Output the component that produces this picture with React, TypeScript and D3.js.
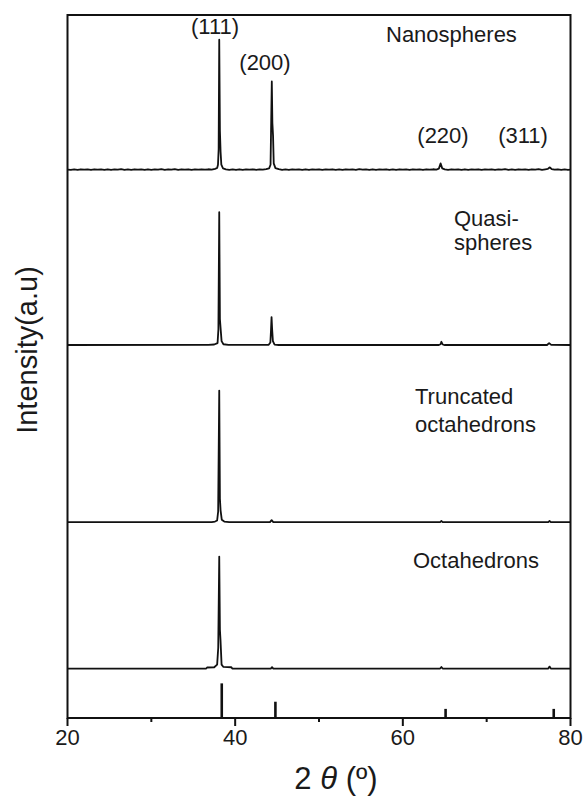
import React from "react";
import * as d3 from "d3";

// ---------- data ----------
const xTicksMajor = [20, 40, 60, 80];
const xTicksMinor = [30, 50, 70];

// sample names (stacked from top to bottom)
const sampleNames = ["Nanospheres", "Quasi-spheres", "Truncated octahedrons", "Octahedrons"];
// vertical offsets of each trace (a.u.)
const sampleOffsets = [421, 286.5, 150.5, 38];

const nanoData: [number, number][] = [
  [20, 0.3], [20.4, 0.0], [20.8, 0.4], [21.2, 0.1], [21.6, 0.5], [22.0, 0.2], [22.4, 0.4], [22.8, 0.0],
  [23.2, 0.5], [23.6, 0.2], [24.0, 0.4], [24.4, 0.0], [24.8, 0.5], [25.2, 0.1], [25.6, 0.4], [26.0, 0.2],
  [26.4, 0.6], [26.8, 0.1], [27.2, 0.4], [27.6, 0.0], [28.0, 0.5], [28.4, 0.2], [28.8, 0.4], [29.2, 0.0],
  [29.6, 0.5], [30.0, 0.1], [30.4, 0.4], [30.8, 0.2], [31.2, 0.6], [31.6, 0.1], [32.0, 0.5], [32.4, 0.2],
  [32.8, 0.6], [33.2, 0.1], [33.6, 0.5], [34.0, 0.2], [34.4, 0.5], [34.8, 0.0], [35.2, 0.4], [35.6, 0.2],
  [36.0, 0.5], [36.4, 0.2], [36.8, 0.5], [37.2, 0.3], [37.6, 0.8], [37.85, 1.5],
  [37.95, 4], [38.03, 16], [38.1, 100], [38.18, 30], [38.26, 14], [38.35, 4], [38.55, 1.2], [38.9, 0.5],
  [39.3, 0.1], [39.7, 0.4], [40.1, 0.0], [40.5, 0.5], [40.9, 0.1], [41.3, 0.4], [41.7, 0.2], [42.1, 0.5],
  [42.5, 0.1], [42.9, 0.4], [43.3, 0.2], [43.7, 0.6], [44.05, 1.2], [44.22, 4],
  [44.3, 38], [44.37, 68], [44.44, 36], [44.52, 26], [44.6, 5], [44.8, 1.4], [45.2, 0.6], [45.6, 0.1],
  [46.0, 0.4], [46.4, 0.1], [46.8, 0.5], [47.2, 0.2], [47.6, 0.4], [48.0, 0.0], [48.4, 0.5], [48.8, 0.1],
  [49.2, 0.4], [49.6, 0.2], [50.0, 0.5], [50.4, 0.0], [50.8, 0.4], [51.2, 0.2], [51.6, 0.5], [52.0, 0.1],
  [52.4, 0.4], [52.8, 0.0], [53.2, 0.5], [53.6, 0.2], [54.0, 0.4], [54.4, 0.1], [54.8, 0.6], [55.2, 0.2],
  [55.6, 0.4], [56.0, 0.0], [56.4, 0.5], [56.8, 0.1], [57.2, 0.4], [57.6, 0.2], [58.0, 0.5], [58.4, 0.1],
  [58.8, 0.4], [59.2, 0.0], [59.6, 0.5], [60.0, 0.2], [60.4, 0.4], [60.8, 0.1], [61.2, 0.5], [61.6, 0.2],
  [62.0, 0.4], [62.4, 0.0], [62.8, 0.5], [63.2, 0.2], [63.6, 0.5], [64.0, 0.3], [64.3, 1.0], [64.5, 5],
  [64.7, 1.2], [65.0, 0.4], [65.4, 0.1], [65.8, 0.5], [66.2, 0.2], [66.6, 0.4], [67.0, 0.0], [67.4, 0.5],
  [67.8, 0.1], [68.2, 0.4], [68.6, 0.2], [69.0, 0.5], [69.4, 0.0], [69.8, 0.4], [70.2, 0.2], [70.6, 0.5],
  [71.0, 0.1], [71.4, 0.4], [71.8, 0.2], [72.2, 0.6], [72.6, 0.1], [73.0, 0.4], [73.4, 0.0], [73.8, 0.5],
  [74.2, 0.2], [74.6, 0.4], [75.0, 0.1], [75.4, 0.5], [75.8, 0.2], [76.2, 0.6], [76.6, 0.1], [77.0, 0.5],
  [77.3, 0.8], [77.5, 2], [77.75, 0.7], [78.1, 0.2], [78.5, 0.5], [78.9, 0.1], [79.3, 0.4], [79.7, 0.1],
  [80, 0.3],
];

const quasiData: [number, number][] = [
  [20, 0], [36.8, 0.1], [37.5, 0.4], [37.9, 1.5], [38.0, 12], [38.1, 102], [38.18, 20], [38.26, 13],
  [38.38, 3], [38.6, 0.6], [39.2, 0.1], [44.0, 0.2], [44.2, 2], [44.28, 12], [44.34, 21.5], [44.41, 12],
  [44.5, 3], [44.7, 0.3], [45.2, 0], [64.3, 0], [64.5, 0.6], [64.6, 2.5], [64.75, 0.4], [65.0, 0],
  [77.2, 0], [77.45, 1.5], [77.7, 0.1], [80, 0],
];

const truncData: [number, number][] = [
  [20, 0], [37.2, 0], [37.6, 0.4], [37.85, 1.2], [37.97, 8], [38.1, 101], [38.18, 18], [38.26, 9],
  [38.4, 1.8], [38.7, 0.4], [39.3, 0], [44.15, 0], [44.35, 1.5], [44.55, 0], [64.45, 0], [64.6, 0.8],
  [64.75, 0], [77.35, 0], [77.5, 0.8], [77.65, 0], [80, 0],
];

const octaData: [number, number][] = [
  [20, 0], [36.55, 0], [36.65, 0.8], [37.5, 1], [37.85, 3], [37.98, 16], [38.1, 86], [38.18, 30],
  [38.25, 22], [38.38, 3], [38.6, 1.2], [39.55, 1], [39.65, 0], [44.25, 0], [44.4, 1], [44.55, 0],
  [64.45, 0], [64.6, 1.2], [64.75, 0], [77.35, 0], [77.5, 1.5], [77.65, 0], [80, 0],
];

const seriesData = [nanoData, quasiData, truncData, octaData];

// reference pattern (stick lines)
const refTheta = [38.4, 44.8, 65.1, 78.0];
const refIntensity = [26.6, 12.5, 7, 7];

// Miller indices labels
const hklLabels = ["(111)", "(200)", "(220)", "(311)"];

// ---------- layout ----------
const W = 585;
const H = 796;
const left = 67.5;
const right = 570.5;
const top = 15;
const bottom = 718;
const font = "'Liberation Sans', Arial, Helvetica, sans-serif";
const ink = "#111";
const textInk = "#1a1a1a";

export default function App() {
  const x = d3.scaleLinear().domain([20, 80]).range([left, right]);
  const y = d3.scaleLinear().domain([0, 540]).range([bottom, top]);

  const lineFor = (offset: number) =>
    d3
      .line<[number, number]>()
      .x((d) => x(d[0]))
      .y((d) => y(d[1] + offset));

  // label positions (layout)
  const hklPos = [
    { x: 215, y: 34 },
    { x: 265, y: 70 },
    { x: 443, y: 143 },
    { x: 523, y: 143 },
  ];
  const sampleLabelLines = [
    { lines: ["Nanospheres"], x: 386, y: [42] },
    { lines: ["Quasi-", "spheres"], x: 454, y: [226, 250] },
    { lines: ["Truncated", "octahedrons"], x: 415, y: [404, 432] },
    { lines: ["Octahedrons"], x: 413, y: [568] },
  ];

  return (
    <svg
      width={W}
      height={H}
      style={{ position: "absolute", left: 0, top: 0, background: "#fff" }}
      fontFamily={font}
    >
      <rect x={0} y={0} width={W} height={H} fill="#fff" />

      {/* traces */}
      {seriesData.map((d, i) => (
        <path
          key={sampleNames[i]}
          d={lineFor(sampleOffsets[i])(d) || ""}
          fill="none"
          stroke={ink}
          strokeWidth={1.8}
          strokeLinejoin="round"
        />
      ))}

      {/* reference sticks */}
      {refTheta.map((t, i) => (
        <line
          key={"ref" + i}
          x1={x(t)}
          x2={x(t)}
          y1={y(0)}
          y2={y(refIntensity[i])}
          stroke={ink}
          strokeWidth={2.6}
        />
      ))}

      {/* frame */}
      <rect
        x={left}
        y={top}
        width={right - left}
        height={bottom - top}
        fill="none"
        stroke={ink}
        strokeWidth={2}
      />

      {/* x ticks */}
      {xTicksMajor.map((t) => (
        <g key={"M" + t}>
          <line x1={x(t)} x2={x(t)} y1={bottom} y2={bottom + 8} stroke={ink} strokeWidth={2} />
          <text x={x(t)} y={745} textAnchor="middle" fontSize={22} fill={textInk}>
            {t}
          </text>
        </g>
      ))}
      {xTicksMinor.map((t) => (
        <line key={"m" + t} x1={x(t)} x2={x(t)} y1={bottom} y2={bottom + 4} stroke={ink} strokeWidth={2} />
      ))}

      {/* axis titles */}
      <text x={336} y={789} textAnchor="middle" fontSize={31} fill={textInk}>
        <tspan>2 </tspan>
        <tspan fontStyle="italic">θ</tspan>
        <tspan> (º)</tspan>
      </text>
      <text
        transform={`translate(37, 350) rotate(-90)`}
        textAnchor="middle"
        fontSize={29}
        fill={textInk}
      >
        Intensity(a.u)
      </text>

      {/* hkl labels */}
      {hklLabels.map((s, i) => (
        <text key={s} x={hklPos[i].x} y={hklPos[i].y} textAnchor="middle" fontSize={22} fill={textInk}>
          {s}
        </text>
      ))}

      {/* sample labels */}
      {sampleLabelLines.map((s, i) =>
        s.lines.map((ln, j) => (
          <text key={i + "-" + j} x={s.x} y={s.y[j]} fontSize={22} fill={textInk}>
            {ln}
          </text>
        ))
      )}
    </svg>
  );
}
